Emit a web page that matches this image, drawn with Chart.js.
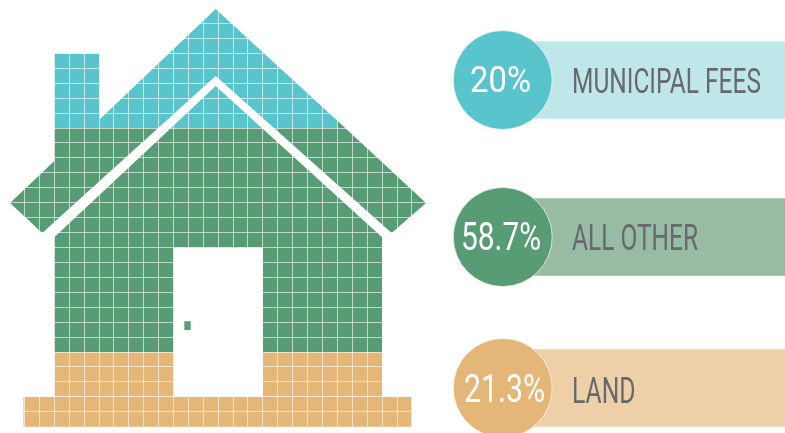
<!DOCTYPE html>
<html lang="en">
<head>
  <meta charset="UTF-8" />
  <title>Home price breakdown</title>
  <script src="https://cdn.jsdelivr.net/npm/chart.js"></script>
  <style>
    html, body { margin: 0; padding: 0; background: #fff; overflow: hidden; width: 785px; height: 433px; }
    canvas { position: absolute; display: block; }
    #house { left: 0; top: 0; }
  </style>
</head>
<body>
  <canvas id="house" width="440" height="433"></canvas>

<script>
  // shares shown in the legend rows
  const categories = ["MUNICIPAL FEES", "ALL OTHER", "LAND"];
  const shares = [20, 58.7, 21.3];

  // house outline pieces, [column, row] on the cell grid
  const feesRoof = [[2,0],[5,0],[5,4.46],[12.83,-2.97],[21,4.51],[21,5],[16.74,5],[12.83,1.51],[8.97,5],[2,5]];
  const feesAttic = [[9.83,5],[12.83,2.18],[15.93,5]];
  const otherEaveLeft = [[2,5],[8.97,5],[1.19,12.03],[-0.97,10.02],[2,7.21]];
  const otherEaveRight = [[21,4.51],[21,5],[16.74,5],[24.64,12.03],[26.95,10.02]];
  const otherBody = [[9.83,5],[15.93,5],[24,12.32],[24,20],[16,20],[16,13],[10,13],[10,20],[2,20],[2,12.32]];
  const landLeft = [[2,20],[10,20],[10,23],[2,23]];
  const landRight = [[16,20],[24,20],[24,23],[16,23]];
  const landGround = [[-0.07,23],[26,23],[26,25],[-0.07,25]];
  const doorKnob = [[10.94,17.94],[10.94,18.52]];

  const TEAL = "#59c4cc", GREEN = "#589c76", SAND = "#e4b678";
  const PALE = ["#bfe6e9", "#97bba3", "#edcfa8"];
  const SOLID = [TEAL, GREEN, SAND];

  function shape(points, color) {
    return {
      data: points.map(p => ({ x: p[0], y: p[1] })),
      fill: "shape",
      backgroundColor: color,
      borderWidth: 0,
      pointRadius: 0,
      tension: 0
    };
  }

  const cellLine = { color: "rgba(255,255,255,0.62)", lineWidth: 1, drawTicks: false };

  new Chart(document.getElementById("house"), {
    type: "line",
    data: {
      datasets: [
        shape(feesRoof, TEAL), shape(feesAttic, TEAL),
        shape(otherEaveLeft, GREEN), shape(otherEaveRight, GREEN), shape(otherBody, GREEN),
        shape(landLeft, SAND), shape(landRight, SAND), shape(landGround, SAND),
        {
          data: doorKnob.map(p => ({ x: p[0], y: p[1] })),
          fill: false,
          borderColor: GREEN,
          borderWidth: 6.4,
          pointRadius: 0
        }
      ]
    },
    options: {
      responsive: false,
      animation: false,
      layout: { padding: 0 },
      plugins: {
        legend: { display: false },
        tooltip: { enabled: false },
        // paint the house first so the white cell lines land on top of it
        filler: { drawTime: "beforeDraw" }
      },
      scales: {
        x: {
          type: "linear",
          min: -24.5 / 14.9,
          max: (440 - 24.5) / 14.9,
          grid: cellLine,
          border: { display: false },
          ticks: { display: false, stepSize: 1, autoSkip: false }
        },
        y: {
          type: "linear",
          reverse: true,
          min: -53.4 / 14.93,
          max: (433 - 53.4) / 14.93,
          grid: cellLine,
          border: { display: false },
          ticks: { display: false, stepSize: 1, autoSkip: false }
        }
      }
    }
  });

  // squeeze a Roboto string to the condensed width it needs
  function drawFitted(ctx, text, x, y, size, width, align, color) {
    ctx.save();
    ctx.font = size + "px Roboto, sans-serif";
    ctx.fillStyle = color;
    ctx.textAlign = align;
    ctx.textBaseline = "alphabetic";
    ctx.translate(x, y);
    ctx.scale(width / ctx.measureText(text).width, 1);
    ctx.fillText(text, 0, 0);
    ctx.restore();
  }

  // percent inside the circle, category name on the band
  const rowText = {
    id: "rowText",
    afterDatasetsDraw(chart, args, o) {
      const { ctx, scales: { x, y } } = chart;
      const mid = y.getPixelForValue(0);
      drawFitted(ctx, o.value, x.getPixelForValue(o.valueAt), mid + o.valueDrop, o.valueSize, o.valueWidth, "center", "#fff");
      drawFitted(ctx, o.name, x.getPixelForValue(120), mid + o.nameDrop, o.nameSize, o.nameWidth, "left", "#66696d");
    }
  };

  const rowTops = [29, 186, 337];
  const nameSizes = [34.5, 37, 37];
  const nameWidths = [189, 126, 63.5];
  const nameDrops = [12.7, 12.5, 14.7];
  const valueSizes = [36, 38, 38];
  const valueWidths = [61, 80, 81];
  const valueCentres = [48.5, 49, 52.5];
  const valueDrops = [12.3, 12.7, 13.7];

  categories.forEach((name, i) => {
    const canvas = document.createElement("canvas");
    canvas.width = 333;
    canvas.height = 102;
    canvas.style.left = "452px";
    canvas.style.top = rowTops[i] + "px";
    document.body.appendChild(canvas);

    new Chart(canvas, {
      data: {
        labels: [name],
        datasets: [
          {
            type: "scatter",
            data: [{ x: 50.7, y: name }],
            pointRadius: 49.5,
            pointBackgroundColor: SOLID[i],
            pointBorderColor: "rgba(255,255,255,0.7)",
            pointBorderWidth: 1,
            clip: false,
            order: 0
          },
          {
            type: "bar",
            data: [[50.7, 333]],
            backgroundColor: PALE[i],
            barThickness: 77,
            order: 1
          }
        ]
      },
      options: {
        indexAxis: "y",
        responsive: false,
        animation: false,
        layout: { padding: 0, autoPadding: false },
        plugins: {
          legend: { display: false },
          tooltip: { enabled: false },
          rowText: {
            name: name,
            value: shares[i] + "%",
            nameSize: nameSizes[i],
            nameWidth: nameWidths[i],
            nameDrop: nameDrops[i],
            valueSize: valueSizes[i],
            valueWidth: valueWidths[i],
            valueAt: valueCentres[i],
            valueDrop: valueDrops[i]
          }
        },
        scales: {
          x: { type: "linear", min: 0, max: 333, display: false },
          y: { type: "category", display: false }
        }
      },
      plugins: [rowText]
    });
  });
</script>
</body>
</html>
